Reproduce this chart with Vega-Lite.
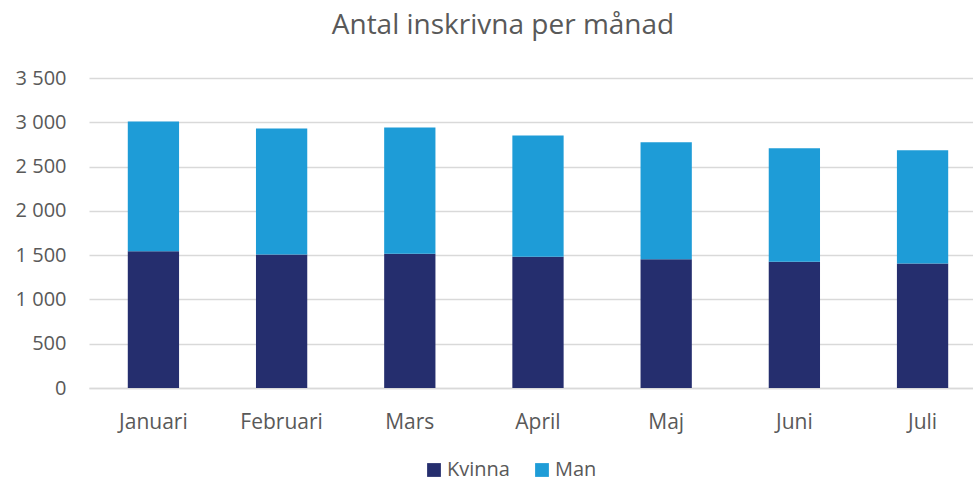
{
  "$schema": "https://vega.github.io/schema/vega-lite/v6.json",
  "autosize": "none",
  "width": 884,
  "height": 310,
  "padding": {"left": 89, "top": 78, "right": 0, "bottom": 93},
  "background": "white",
  "title": {
    "text": "Antal inskrivna per månad",
    "font": "Open Sans",
    "fontSize": 28,
    "fontWeight": "normal",
    "color": "#595959",
    "anchor": "middle",
    "dx": -28,
    "offset": 28
  },
  "data": {
    "values": [
      {"month": "Januari", "kon": "Kvinna", "antal": 1545},
      {"month": "Januari", "kon": "Man", "antal": 1463},
      {"month": "Februari", "kon": "Kvinna", "antal": 1508},
      {"month": "Februari", "kon": "Man", "antal": 1421},
      {"month": "Mars", "kon": "Kvinna", "antal": 1515},
      {"month": "Mars", "kon": "Man", "antal": 1425},
      {"month": "April", "kon": "Kvinna", "antal": 1481},
      {"month": "April", "kon": "Man", "antal": 1369},
      {"month": "Maj", "kon": "Kvinna", "antal": 1455},
      {"month": "Maj", "kon": "Man", "antal": 1320},
      {"month": "Juni", "kon": "Kvinna", "antal": 1425},
      {"month": "Juni", "kon": "Man", "antal": 1282},
      {"month": "Juli", "kon": "Kvinna", "antal": 1406},
      {"month": "Juli", "kon": "Man", "antal": 1279}
    ]
  },
  "mark": {"type": "bar"},
  "encoding": {
    "x": {
      "field": "month",
      "type": "nominal",
      "sort": ["Januari", "Februari", "Mars", "April", "Maj", "Juni", "Juli"],
      "scale": {"paddingInner": 0.6, "paddingOuter": 0.248, "align": 0.61},
      "axis": {
        "title": null,
        "labelAngle": 0,
        "labelFont": "Open Sans",
        "labelFontSize": 21,
        "labelColor": "#595959",
        "labelBaseline": "alphabetic",
        "labelPadding": 40,
        "ticks": false,
        "tickSize": 0,
        "domainColor": "#D9D9D9",
        "domainWidth": 1.5,
        "grid": false
      }
    },
    "y": {
      "field": "antal",
      "type": "quantitative",
      "aggregate": "sum",
      "stack": "zero",
      "scale": {"domain": [0, 3500], "nice": false},
      "axis": {
        "title": null,
        "values": [0, 500, 1000, 1500, 2000, 2500, 3000, 3500],
        "labelExpr": "replace(format(datum.value, ','), ',', ' ')",
        "labelFont": "Open Sans",
        "labelFontSize": 20,
        "labelColor": "#595959",
        "labelPadding": 23,
        "ticks": false,
        "tickSize": 0,
        "domain": false,
        "gridColor": "#D9D9D9",
        "gridWidth": 1.5
      }
    },
    "order": {"field": "kon", "type": "nominal", "sort": "ascending"},
    "color": {
      "field": "kon",
      "type": "nominal",
      "scale": {"domain": ["Kvinna", "Man"], "range": ["#252E6E", "#1E9CD7"]},
      "legend": {
        "title": null,
        "orient": "none",
        "direction": "horizontal",
        "legendX": 335,
        "legendY": 382,
        "symbolType": "square",
        "symbolSize": 190,
        "symbolOpacity": 1,
        "symbolStrokeWidth": 0,
        "labelFont": "Open Sans",
        "labelFontSize": 20,
        "labelColor": "#595959",
        "labelOffset": 3,
        "columnPadding": 22
      }
    }
  },
  "config": {"view": {"stroke": null}}
}
